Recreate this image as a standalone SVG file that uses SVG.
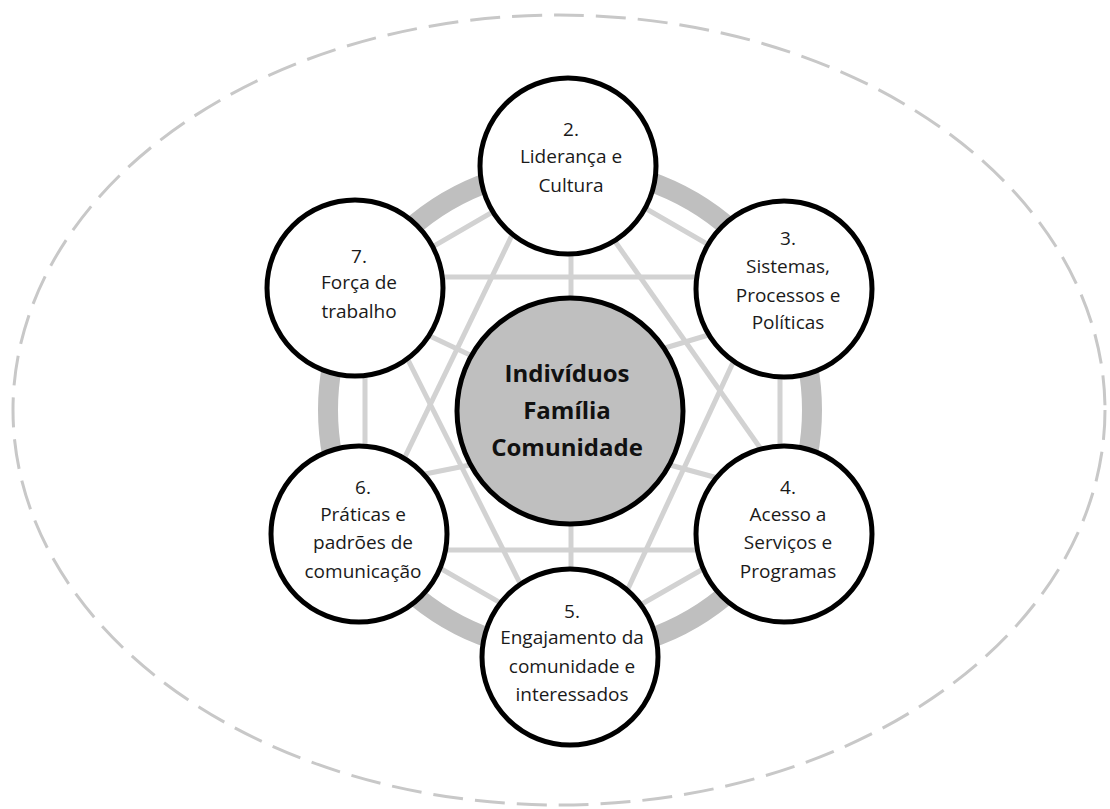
<svg xmlns="http://www.w3.org/2000/svg" width="1110" height="809" viewBox="0 0 1110 809">
  <style>
    .frame { fill: none; stroke: #c8c8c8; stroke-width: 3; stroke-dasharray: 30 12; }
    .ring { fill: none; stroke: #bfbfbf; stroke-width: 20; }
    .web { fill: none; stroke: #d2d2d2; stroke-width: 5; stroke-linecap: butt; }
    .node circle { fill: #ffffff; stroke: #000000; stroke-width: 5; }
    .node text { font-family: "Open Sans", "Noto Sans", "DejaVu Sans", sans-serif; font-size: 19px; fill: #1a1a1a; text-anchor: middle; }
    #core circle { fill: #bfbfbf; stroke: #000000; stroke-width: 5; }
    #core text { font-family: "Open Sans", "Noto Sans", "DejaVu Sans", sans-serif; font-size: 24px; font-weight: bold; fill: #111111; text-anchor: middle; }
  </style>

  <rect width="1110" height="809" fill="#ffffff"/>

  <!-- outer dashed boundary -->
  <ellipse class="frame" cx="559" cy="410" rx="546" ry="395"/>

  <!-- connecting web: ring, hexagon, star and spokes -->
  <g id="connectors">
    <circle class="ring" cx="570" cy="410" r="242"/>
    <polygon class="web" points="572,166 780,286 780,525 572,644 365,525 365,286"/>
    <!-- triangle through 7, 3, 5 -->
    <line class="web" x1="360" y1="277" x2="788" y2="277"/>
    <line class="web" x1="378" y1="300" x2="566" y2="675"/>
    <line class="web" x1="762" y1="300" x2="588" y2="675"/>
    <!-- triangle through 2, 6, 4 -->
    <line class="web" x1="340" y1="550" x2="830" y2="550"/>
    <line class="web" x1="529" y1="200" x2="360" y2="550"/>
    <line class="web" x1="607" y1="230" x2="832" y2="550"/>
    <!-- spokes -->
    <line class="web" x1="571" y1="250" x2="571" y2="300"/>
    <line class="web" x1="571" y1="520" x2="571" y2="572"/>
    <line class="web" x1="470" y1="355" x2="415" y2="329"/>
    <line class="web" x1="665" y1="348" x2="725" y2="330"/>
    <line class="web" x1="470" y1="465" x2="410" y2="477"/>
    <line class="web" x1="670" y1="465" x2="725" y2="480"/>
  </g>

  <g id="core">
    <circle cx="570" cy="411" r="113"/>
    <text x="567" y="382">Indivíduos</text>
    <text x="567" y="419">Família</text>
    <text x="567" y="456">Comunidade</text>
  </g>

  <g id="node-2" class="node">
    <circle cx="568" cy="166" r="88"/>
    <text x="571" y="136">2.</text>
    <text x="571" y="163">Liderança e</text>
    <text x="571" y="192">Cultura</text>
  </g>

  <g id="node-3" class="node">
    <circle cx="784" cy="289" r="88"/>
    <text x="788" y="245">3.</text>
    <text x="788" y="273">Sistemas,</text>
    <text x="788" y="302">Processos e</text>
    <text x="788" y="329">Políticas</text>
  </g>

  <g id="node-4" class="node">
    <circle cx="784" cy="534" r="88"/>
    <text x="788" y="494">4.</text>
    <text x="788" y="521">Acesso a</text>
    <text x="788" y="549">Serviços e</text>
    <text x="788" y="578">Programas</text>
  </g>

  <g id="node-5" class="node">
    <circle cx="570" cy="657" r="88"/>
    <text x="572" y="618">5.</text>
    <text x="572" y="644">Engajamento da</text>
    <text x="572" y="673">comunidade e</text>
    <text x="572" y="701">interessados</text>
  </g>

  <g id="node-6" class="node">
    <circle cx="359" cy="534" r="88"/>
    <text x="363" y="494">6.</text>
    <text x="363" y="521">Práticas e</text>
    <text x="363" y="549">padrões de</text>
    <text x="363" y="578">comunicação</text>
  </g>

  <g id="node-7" class="node">
    <circle cx="355" cy="288" r="88"/>
    <text x="359" y="263">7.</text>
    <text x="359" y="289">Força de</text>
    <text x="359" y="318">trabalho</text>
  </g>
</svg>
